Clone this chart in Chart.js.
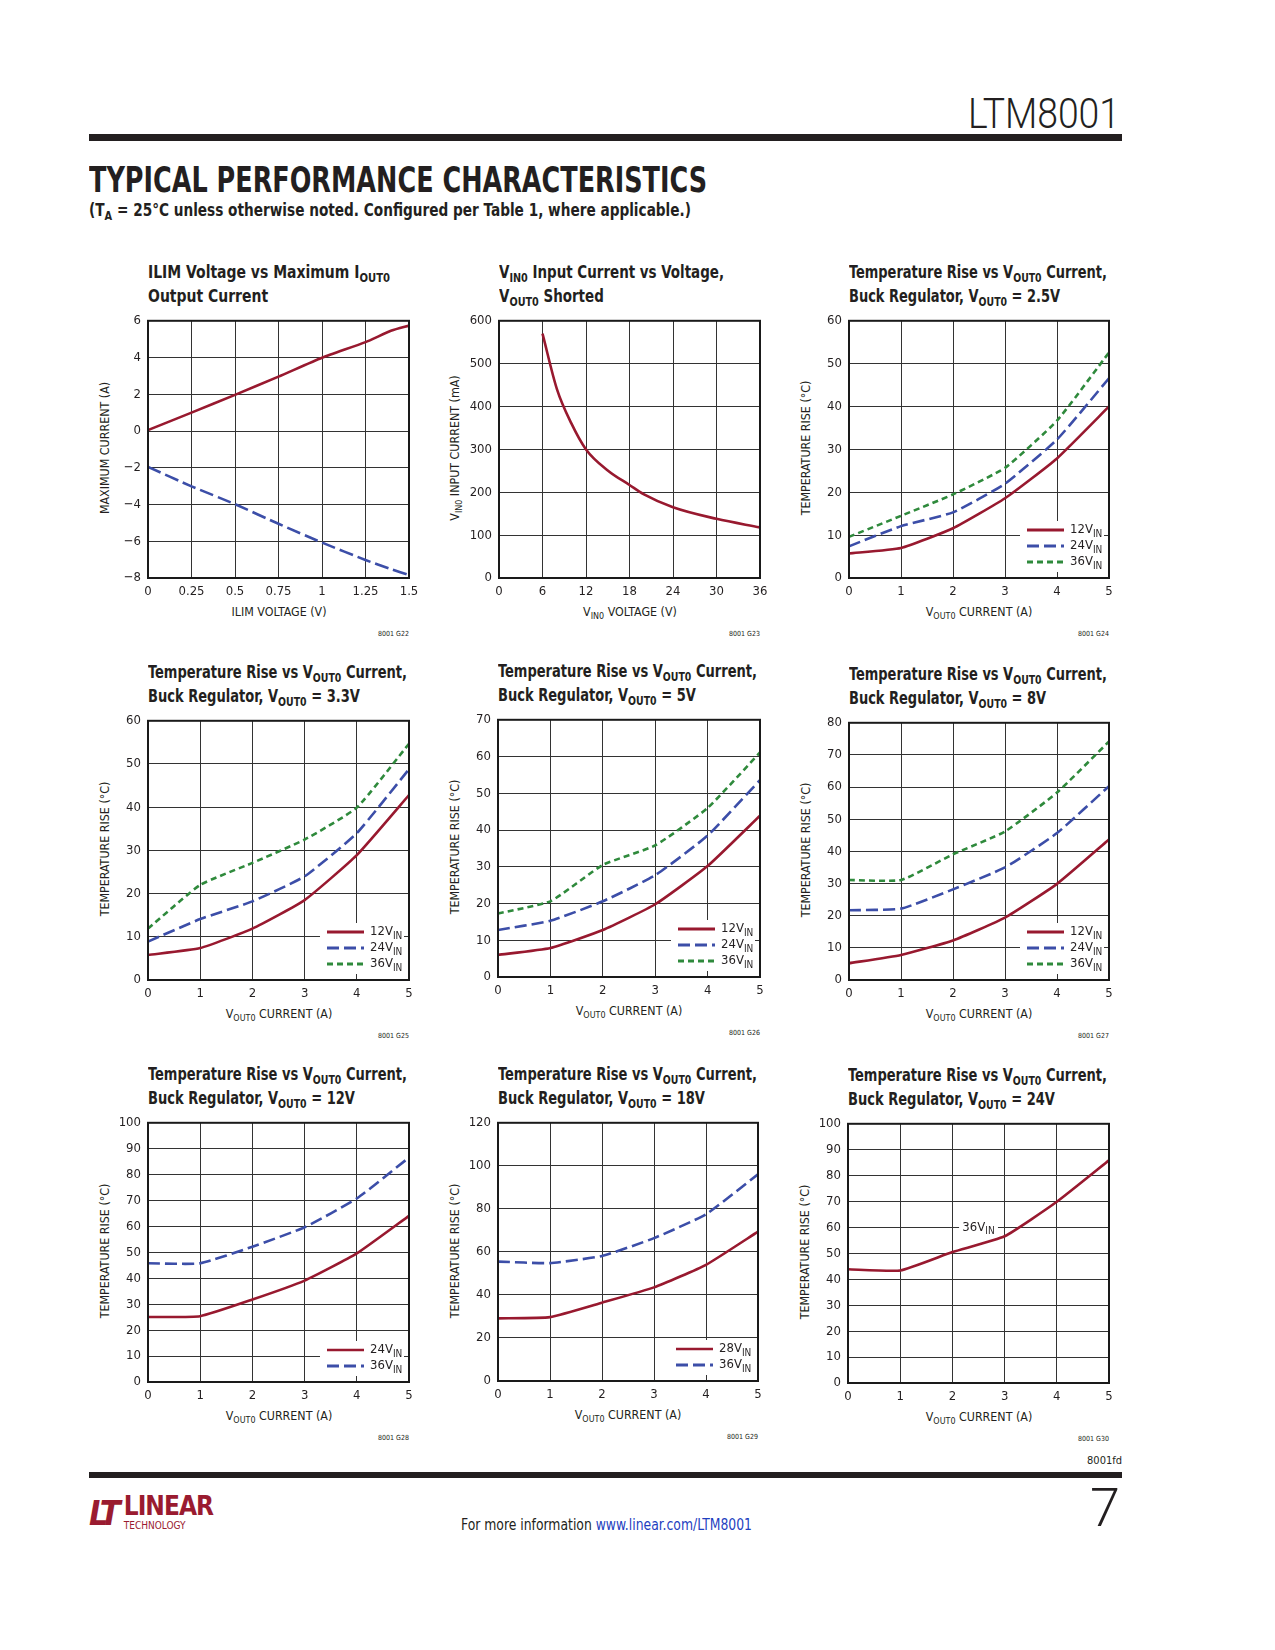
<!DOCTYPE html>
<html>
<head>
<meta charset="utf-8">
<title>LTM8001 Typical Performance Characteristics</title>
<script src="https://cdn.jsdelivr.net/npm/chart.js@4.4.1/dist/chart.umd.min.js"></script>
<style>
  body { margin: 0; background: #fff; }
  #page {
    position: relative; width: 1275px; height: 1650px; overflow: hidden; background: #fff;
    color: #231f20; font-family: "Liberation Sans Narrow", "Arial Narrow", "DejaVu Sans Condensed", sans-serif;
  }
  .abs { position: absolute; white-space: nowrap; }
  .title { font-weight: bold; font-size: 18px; line-height: 22px; }
  .sub { font-size: 72%; position: relative; top: 0.32em; }
  .xtitle { font-size: 13px; line-height: 15px; transform: translateX(-50%) scaleX(0.95); }
  .ytitle { font-size: 13px; line-height: 15px; transform: translate(-50%, -50%) rotate(-90deg) scaleX(0.95); }
  .code { font-size: 7px; transform: translateX(-100%); }
  .rule { position: absolute; background: #231f20; }
</style>
</head>
<body>
<div id="page"></div>
<script>
// ---- data ----
const ilimVoltage = [0, 0.25, 0.5, 0.75, 1, 1.25, 1.4, 1.5];
const ilimPositive = [0.05, 1.0, 1.97, 2.96, 3.99, 4.84, 5.47, 5.74];
const ilimNegative = [-1.95, -3.01, -3.98, -5.05, -6.07, -7.02, -7.53, -7.84];
const ilimVoltageTicks = [0, 0.25, 0.5, 0.75, 1, 1.25, 1.5];
const ilimCurrentTicks = [-8, -6, -4, -2, 0, 2, 4, 6];

const vinVoltage = [6, 8, 10, 12, 15, 18, 20, 24, 30, 36];
const vinCurrent = [570, 440, 360, 300, 251, 217, 195, 165, 138, 118];
const vinVoltageTicks = [0, 6, 12, 18, 24, 30, 36];
const vinCurrentTicks = [0, 100, 200, 300, 400, 500, 600];

const xCurrent = [0, 1, 2, 3, 4, 5];
const currentTicks = [0, 1, 2, 3, 4, 5];

const rise25_12 = [5.7, 7.0, 11.6, 18.6, 27.9, 40.0];
const rise25_24 = [7.4, 12.1, 15.3, 22.0, 32.3, 46.6];
const rise25_36 = [9.6, 14.5, 19.5, 25.7, 36.7, 52.6];

const rise33_12 = [5.8, 7.4, 11.9, 18.5, 28.9, 42.8];
const rise33_24 = [8.9, 14.1, 18.2, 24.0, 34.0, 48.8];
const rise33_36 = [11.9, 22.0, 27.1, 32.5, 39.9, 54.7];

const rise5_12 = [6.0, 7.9, 12.8, 19.8, 30.2, 43.9];
const rise5_24 = [12.8, 15.3, 20.6, 27.7, 38.5, 53.6];
const rise5_36 = [17.3, 20.6, 30.5, 35.8, 46.0, 61.1];

const rise8_12 = [5.2, 7.8, 12.3, 19.4, 29.9, 43.7];
const rise8_24 = [21.7, 22.2, 28.2, 35.0, 45.7, 60.3];
const rise8_36 = [31.1, 31.1, 39.1, 46.2, 58.3, 74.2];

const rise12_24 = [25.1, 25.4, 31.8, 39.1, 49.6, 64.1];
const rise12_36 = [45.8, 45.8, 52.2, 59.7, 70.8, 86.6];

const rise18_28 = [29.1, 29.7, 36.4, 43.5, 54.0, 69.4];
const rise18_36 = [55.5, 54.8, 58.1, 66.4, 77.5, 96.1];

const rise24_36 = [43.9, 43.4, 50.5, 56.6, 69.9, 85.9];

const ticks60 = [0, 10, 20, 30, 40, 50, 60];
const ticks70 = [0, 10, 20, 30, 40, 50, 60, 70];
const ticks80 = [0, 10, 20, 30, 40, 50, 60, 70, 80];
const ticks100 = [0, 10, 20, 30, 40, 50, 60, 70, 80, 90, 100];
const ticks120 = [0, 20, 40, 60, 80, 100, 120];

// ---- styles ----
const NARROW = '"Liberation Sans Narrow", "Arial Narrow", "DejaVu Sans Condensed", sans-serif';
const INK = "#231f20";
const STYLE = {
    red: { color: "#98192f", width: 2.6, dash: [] },
    redThin: { color: "#98192f", width: 2.2, dash: [] },
    blue: { color: "#3c4ea8", width: 2.6, dash: [12, 5] },
    green: { color: "#2f8a3c", width: 2.6, dash: [6, 4] }
};
const PAD_L = 52, PAD_T = 12, PAD_R = 18, PAD_B = 28;

const SUB_OUT = '<span class="sub">OUT0</span>';
const SUB_IN = '<span class="sub">IN0</span>';
const TEMP_TITLE = "TEMPERATURE RISE (°C)";
const CUR_TITLE = "V" + SUB_OUT + " CURRENT (A)";
const legend3 = [
    { style: "red", text: "12V", sub: "IN" },
    { style: "blue", text: "24V", sub: "IN" },
    { style: "green", text: "36V", sub: "IN" }
];

const panels = [
    {
        plot: [148, 318, 261, 260], code: "8001 G22", titleWidth: 242,
        title: ["ILIM Voltage vs Maximum I" + SUB_OUT, "Output Current"],
        xTitle: "ILIM VOLTAGE (V)", yTitle: "MAXIMUM CURRENT (A)",
        x: [0, 1.5, ilimVoltageTicks], y: [-8, 6, ilimCurrentTicks], tension: 0.2,
        series: [
            { x: ilimVoltage, y: ilimPositive, style: "red" },
            { x: ilimVoltage, y: ilimNegative, style: "blue", dash: [14, 5] }
        ]
    },
    {
        plot: [499, 318, 261, 260], code: "8001 G23", titleWidth: 225, monotone: true,
        title: ["V" + SUB_IN + " Input Current vs Voltage,", "V" + SUB_OUT + " Shorted"],
        xTitle: "V" + SUB_IN + " VOLTAGE (V)", yTitle: "V" + SUB_IN + " INPUT CURRENT (mA)",
        x: [0, 36, vinVoltageTicks], y: [0, 600, vinCurrentTicks],
        series: [{ x: vinVoltage, y: vinCurrent, style: "red" }]
    },
    {
        plot: [849, 318, 260, 260], code: "8001 G24", titleWidth: 258,
        title: ["Temperature Rise vs V" + SUB_OUT + " Current,", "Buck Regulator, V" + SUB_OUT + " = 2.5V"],
        xTitle: CUR_TITLE, yTitle: TEMP_TITLE,
        x: [0, 5, currentTicks], y: [0, 60, ticks60],
        series: [
            { x: xCurrent, y: rise25_12, style: "red" },
            { x: xCurrent, y: rise25_24, style: "blue" },
            { x: xCurrent, y: rise25_36, style: "green" }
        ],
        legend: legend3
    },
    {
        plot: [148, 718, 261, 262], code: "8001 G25", titleWidth: 259,
        title: ["Temperature Rise vs V" + SUB_OUT + " Current,", "Buck Regulator, V" + SUB_OUT + " = 3.3V"],
        xTitle: CUR_TITLE, yTitle: TEMP_TITLE,
        x: [0, 5, currentTicks], y: [0, 60, ticks60],
        series: [
            { x: xCurrent, y: rise33_12, style: "red" },
            { x: xCurrent, y: rise33_24, style: "blue" },
            { x: xCurrent, y: rise33_36, style: "green" }
        ],
        legend: legend3
    },
    {
        plot: [498, 717, 262, 260], code: "8001 G26", titleWidth: 259,
        title: ["Temperature Rise vs V" + SUB_OUT + " Current,", "Buck Regulator, V" + SUB_OUT + " = 5V"],
        xTitle: CUR_TITLE, yTitle: TEMP_TITLE,
        x: [0, 5, currentTicks], y: [0, 70, ticks70],
        series: [
            { x: xCurrent, y: rise5_12, style: "red" },
            { x: xCurrent, y: rise5_24, style: "blue" },
            { x: xCurrent, y: rise5_36, style: "green" }
        ],
        legend: legend3
    },
    {
        plot: [849, 720, 260, 260], code: "8001 G27", titleWidth: 258,
        title: ["Temperature Rise vs V" + SUB_OUT + " Current,", "Buck Regulator, V" + SUB_OUT + " = 8V"],
        xTitle: CUR_TITLE, yTitle: TEMP_TITLE,
        x: [0, 5, currentTicks], y: [0, 80, ticks80],
        series: [
            { x: xCurrent, y: rise8_12, style: "red" },
            { x: xCurrent, y: rise8_24, style: "blue" },
            { x: xCurrent, y: rise8_36, style: "green" }
        ],
        legend: legend3
    },
    {
        plot: [148, 1120, 261, 262], code: "8001 G28", titleWidth: 259,
        title: ["Temperature Rise vs V" + SUB_OUT + " Current,", "Buck Regulator, V" + SUB_OUT + " = 12V"],
        xTitle: CUR_TITLE, yTitle: TEMP_TITLE,
        x: [0, 5, currentTicks], y: [0, 100, ticks100],
        series: [
            { x: xCurrent, y: rise12_24, style: "red" },
            { x: xCurrent, y: rise12_36, style: "blue" }
        ],
        legend: [
            { style: "redThin", text: "24V", sub: "IN" },
            { style: "blue", text: "36V", sub: "IN" }
        ]
    },
    {
        plot: [498, 1120, 260, 261], code: "8001 G29", titleWidth: 259,
        title: ["Temperature Rise vs V" + SUB_OUT + " Current,", "Buck Regulator, V" + SUB_OUT + " = 18V"],
        xTitle: CUR_TITLE, yTitle: TEMP_TITLE,
        x: [0, 5, currentTicks], y: [0, 120, ticks120],
        series: [
            { x: xCurrent, y: rise18_28, style: "red" },
            { x: xCurrent, y: rise18_36, style: "blue" }
        ],
        legend: [
            { style: "redThin", text: "28V", sub: "IN" },
            { style: "blue", text: "36V", sub: "IN" }
        ]
    },
    {
        plot: [848, 1121, 261, 262], code: "8001 G30", titleWidth: 259,
        title: ["Temperature Rise vs V" + SUB_OUT + " Current,", "Buck Regulator, V" + SUB_OUT + " = 24V"],
        xTitle: CUR_TITLE, yTitle: TEMP_TITLE,
        x: [0, 5, currentTicks], y: [0, 100, ticks100],
        series: [{ x: xCurrent, y: rise24_36, style: "red" }],
        label: { x: 2.5, y: 60, text: "36V", sub: "IN" }
    }
];

const page = document.getElementById("page");

function addText(html, cls, left, top, extra) {
    const d = document.createElement("div");
    d.className = "abs " + (cls || "");
    d.innerHTML = html;
    d.style.left = left + "px";
    d.style.top = top + "px";
    if (extra) Object.assign(d.style, extra);
    page.appendChild(d);
    return d;
}

function fitWidth(el, width) {
    const w = el.getBoundingClientRect().width;
    el.style.transformOrigin = "left top";
    el.style.transform = "scaleX(" + (width / w) + ")";
}

function drawSubText(ctx, x, y, text, sub, align) {
    ctx.font = "13px " + NARROW;
    const w1 = ctx.measureText(text).width;
    ctx.font = "10px " + NARROW;
    const w2 = ctx.measureText(sub).width;
    const start = align === "center" ? x - (w1 + w2) / 2 : x;
    ctx.fillStyle = INK;
    ctx.textBaseline = "middle";
    ctx.textAlign = "left";
    ctx.font = "13px " + NARROW;
    ctx.fillText(text, start, y);
    ctx.font = "10px " + NARROW;
    ctx.fillText(sub, start + w1, y + 4);
    return w1 + w2;
}

// legend boxes, the in-plot label and the heavy frame
const decorPlugin = {
    id: "decor",
    beforeDatasetsDraw(chart, args, opts) {
        const p = opts.panel;
        const ctx = chart.ctx;
        const a = chart.chartArea;
        ctx.save();
        if (p.legend) {
            const n = p.legend.length;
            const firstY = a.bottom - 16 - 16 * (n - 1);
            ctx.fillStyle = "#fff";
            ctx.fillRect(a.right - 89, firstY - 9, 84, a.bottom - 6 - (firstY - 9));
            p.legend.forEach((item, i) => {
                const st = STYLE[item.style];
                const y = firstY + 16 * i;
                ctx.strokeStyle = st.color;
                ctx.lineWidth = st.width + 0.4;
                ctx.setLineDash(st.dash);
                ctx.beginPath();
                ctx.moveTo(a.right - 82, y);
                ctx.lineTo(a.right - 45, y);
                ctx.stroke();
                ctx.setLineDash([]);
                drawSubText(ctx, a.right - 39, y, item.text, item.sub, "left");
            });
        }
        if (p.label) {
            const px = chart.scales.x.getPixelForValue(p.label.x);
            const py = chart.scales.y.getPixelForValue(p.label.y);
            ctx.font = "13px " + NARROW;
            const w = ctx.measureText(p.label.text).width + 8;
            ctx.fillStyle = "#fff";
            ctx.fillRect(px - w / 2 - 4, py - 8, w + 8, 17);
            drawSubText(ctx, px, py, p.label.text, p.label.sub, "center");
        }
        ctx.restore();
    },
    afterDraw(chart) {
        const ctx = chart.ctx;
        const a = chart.chartArea;
        ctx.save();
        ctx.strokeStyle = "#1a1a1a";
        ctx.lineWidth = 2;
        ctx.strokeRect(a.left, a.top, a.right - a.left, a.bottom - a.top);
        ctx.restore();
    }
};

Chart.defaults.font.family = NARROW;
Chart.defaults.color = INK;

function axis(range, isX) {
    const list = range[2];
    return {
        type: "linear",
        min: range[0],
        max: range[1],
        afterBuildTicks: scale => { scale.ticks = list.map(v => ({ value: v })); },
        afterFit: scale => {
            if (isX) scale.height = PAD_B; else scale.width = PAD_L;
        },
        grid: { color: "#333333", lineWidth: 1, drawTicks: false },
        border: { display: false },
        ticks: {
            padding: isX ? 6 : 7,
            color: INK,
            font: { size: 13 },
            maxRotation: 0,
            autoSkip: false,
            callback: v => String(v).replace("-", "\u2212")
        }
    };
}

panels.forEach(p => {
    const [l, t, w, h] = p.plot;

    const ttl = addText(p.title[0] + "<br>" + p.title[1], "title", l, t - 57);
    fitWidth(ttl, p.titleWidth);
    addText(p.xTitle, "xtitle", l + w / 2, t + h + 26);
    addText(p.yTitle, "ytitle", l - 44, t + h / 2);
    addText(p.code, "code", l + w, t + h + 52);

    const box = document.createElement("div");
    box.className = "abs";
    box.style.left = (l - PAD_L) + "px";
    box.style.top = (t - PAD_T) + "px";
    const canvas = document.createElement("canvas");
    canvas.width = w + PAD_L + PAD_R;
    canvas.height = h + PAD_T + PAD_B;
    box.appendChild(canvas);
    page.appendChild(box);

    const datasets = p.series.map(s => {
        const st = STYLE[s.style];
        return {
            data: s.x.map((xv, i) => ({ x: xv, y: s.y[i] })),
            borderColor: st.color,
            borderWidth: st.width,
            borderDash: s.dash || st.dash,
            pointRadius: 0,
            tension: p.tension !== undefined ? p.tension : 0.15,
            cubicInterpolationMode: p.monotone ? "monotone" : "default",
            fill: false
        };
    });

    new Chart(canvas.getContext("2d"), {
        type: "line",
        data: { datasets: datasets },
        options: {
            responsive: false,
            animation: false,
            layout: { padding: { top: PAD_T, right: PAD_R, left: 0, bottom: 0 } },
            scales: { x: axis(p.x, true), y: axis(p.y, false) },
            plugins: {
                legend: { display: false },
                tooltip: { enabled: false },
                decor: { panel: p }
            }
        },
        plugins: [decorPlugin]
    });
});

// page furniture
const part = addText("LTM8001", "", 0, 92,
    { fontFamily: "Roboto, 'Open Sans', sans-serif", fontSize: "42px", fontWeight: "300", lineHeight: "44px" });
fitWidth(part, 152);
part.style.left = (1120 - 152) + "px";

const r1 = document.createElement("div");
r1.className = "rule";
Object.assign(r1.style, { left: "89px", top: "134px", width: "1033px", height: "7px" });
page.appendChild(r1);

const head = addText("TYPICAL PERFORMANCE CHARACTERISTICS", "", 89, 160,
    { fontSize: "36px", fontWeight: "bold", lineHeight: "40px", letterSpacing: "0px" });
fitWidth(head, 618);

const cond = addText("(T<span class=\"sub\">A</span> = 25°C unless otherwise noted. Configured per Table 1, where applicable.)", "", 89, 200,
    { fontSize: "17px", fontWeight: "bold", lineHeight: "20px" });
fitWidth(cond, 602);

const r2 = document.createElement("div");
r2.className = "rule";
Object.assign(r2.style, { left: "89px", top: "1472px", width: "1033px", height: "6px" });
page.appendChild(r2);

const fd = addText("8001fd", "", 0, 1454, { fontSize: "11px", lineHeight: "13px" });
fd.style.left = (1122 - fd.getBoundingClientRect().width) + "px";

const logo = addText(
    '<span style="font-size:34px;font-weight:bold;font-style:italic;color:#9a1b30;letter-spacing:-3px;">LT</span>' +
    '<span style="display:inline-block;vertical-align:top;margin-left:6px;line-height:20px;color:#9a1b30;">' +
    '<span style="font-size:26px;font-weight:bold;letter-spacing:-1px;">LINEAR</span><br>' +
    '<span style="font-size:10px;letter-spacing:0px;position:relative;top:-6px;">TECHNOLOGY</span></span>',
    "", 89, 1496, { lineHeight: "34px" });

const foot = addText('For more information <span style="color:#1f3fbf;">www.linear.com/LTM8001</span>', "", 461, 1516,
    { fontSize: "15px", lineHeight: "18px" });
fitWidth(foot, 291);

const pg = addText("7", "", 0, 1480,
    { fontFamily: "Roboto, 'Open Sans', sans-serif", fontSize: "54px", lineHeight: "56px", fontWeight: "300" });
pg.style.left = (1120 - pg.getBoundingClientRect().width) + "px";
</script>
</body>
</html>
